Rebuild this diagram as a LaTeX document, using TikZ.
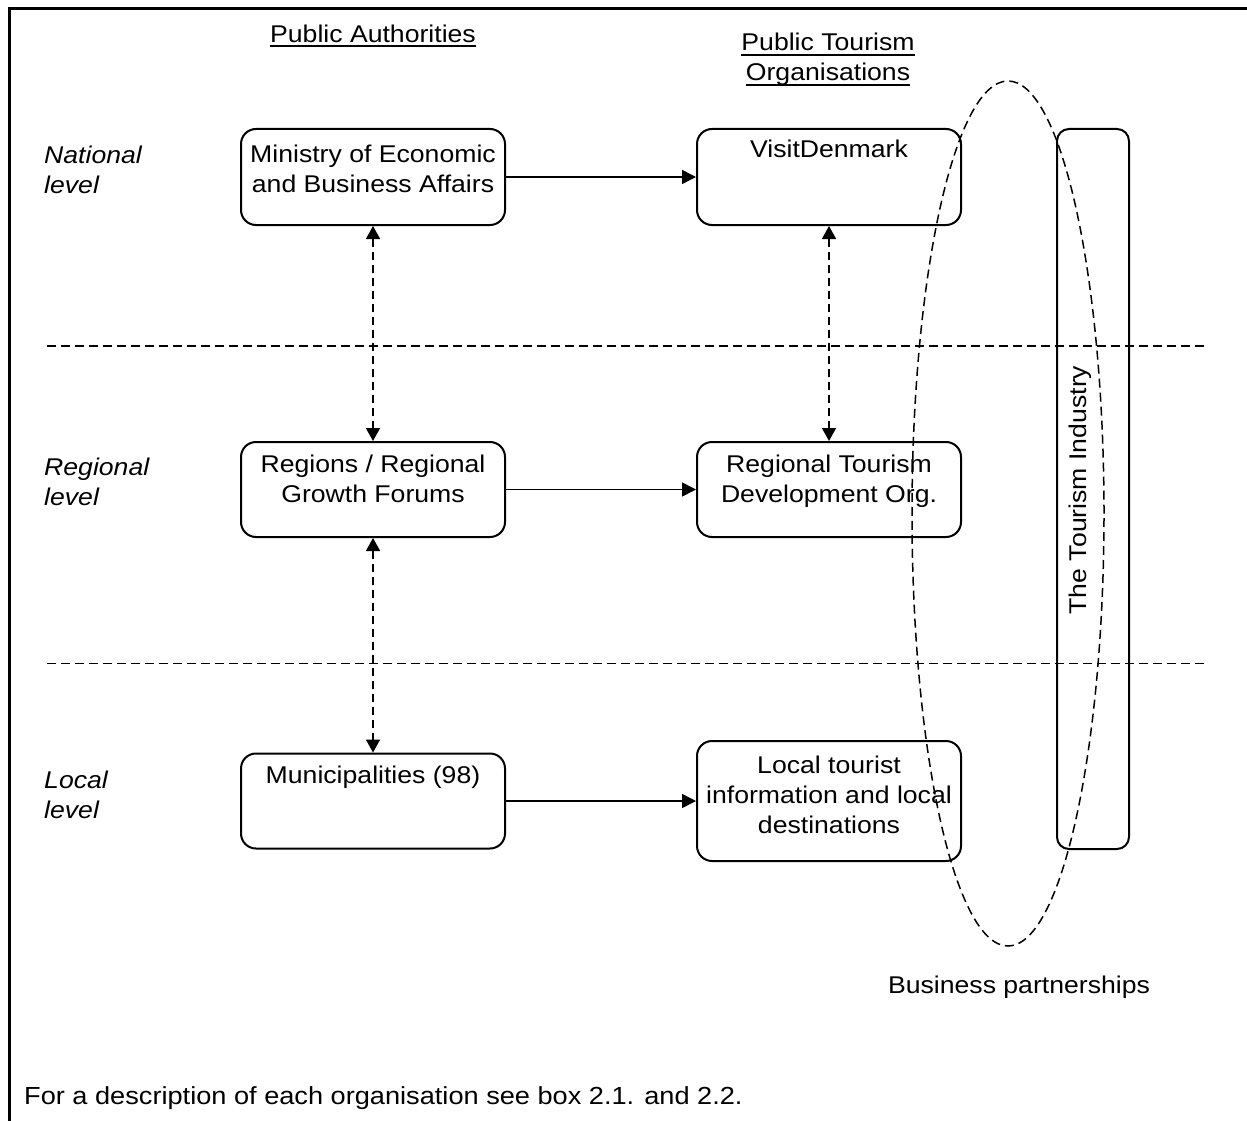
\documentclass[tikz,border=0pt]{standalone}
\usepackage{fontspec}
\setmainfont{Liberation Sans}[FakeStretch=1.1]
\newcommand{\myul}[1]{\mbox{\setbox0=\hbox{#1}\rlap{\rule[-5pt]{\wd0}{2pt}}\box0}}
\usetikzlibrary{arrows.meta}
\begin{document}
\begin{tikzpicture}[x=1pt,y=-1pt,
  every node/.style={font=\fontsize{24.2}{30}\selectfont, inner sep=0pt},
  box/.style={draw, line width=2pt, rounded corners=15pt, minimum width=264pt},
  txt/.style={align=center},
  lvl/.style={align=left, anchor=north west, font=\fontsize{24.2}{30}\selectfont\itshape},
  solidarrow/.style={line width=1.5pt, -{Triangle[length=14pt,width=14pt]}},
  dasharrow/.style={line width=1.5pt, dash pattern=on 8pt off 5pt,
     {Triangle[length=13pt,width=14pt]}-{Triangle[length=13pt,width=14pt]}},
  sep/.style={line width=1.5pt, dash pattern=on 9pt off 5pt},
  frame/.style={line width=2.6pt}]
\useasboundingbox (0,0) rectangle (1247,1121);

% frame
\draw[frame] (1247,8.5) -- (9.5,8.5) -- (9.5,1121);

% separators
\draw[sep] (47,346) -- (1205,346);
\draw[sep] (47,663.5) -- (1205,663.5);

% headings
\node[anchor=base] (pa) at (373,42.3) {\myul{Public Authorities}};
\node[txt, anchor=north] (pto) at (828,29.7) {\strut\myul{Public Tourism}\\\myul{Organisations}};

% level labels
\node[lvl] (nat) at (44,142) {\strut National\\level};
\node[lvl] (regl) at (44,454) {\strut Regional\\level};
\node[lvl] (locl) at (44,767) {\strut Local\\level};

% boxes
\node[box, minimum height=96pt] (min) at (373,177) {};
\node[box, minimum height=96pt] (vd) at (829,177) {};
\node[box, minimum height=95pt] (reg) at (373,489.5) {};
\node[box, minimum height=95pt] (rtd) at (829,489.5) {};
\node[box, minimum height=95pt] (mun) at (373,801) {};
\node[box, minimum height=120pt] (loc) at (829,801) {};
\node[draw, line width=2pt, rounded corners=12pt, minimum width=72pt, minimum height=720pt] (ind) at (1093,489) {};

% box texts
\node[txt, anchor=north] (mint) at (373,141) {\strut Ministry of Economic\\and Business Affairs};
\node[anchor=base] (vdt) at (829,157.7) {VisitDenmark};
\node[txt, anchor=north] (regt) at (373,451) {\strut Regions / Regional\\Growth Forums};
\node[txt, anchor=north] (rtdt) at (829,451) {\strut Regional Tourism\\Development Org.};
\node[anchor=base] (munt) at (373,783.3) {Municipalities (98)};
\node[txt, anchor=north] (loct) at (829,752) {\strut Local tourist\\information and local\\destinations};
\node[rotate=90, anchor=base] (indt) at (1086,490) {The Tourism Industry};

% connectors
\draw[solidarrow] (min) -- (vd);
\draw[solidarrow] (reg) -- (rtd);
\draw[solidarrow] (mun) -- (loc);
\draw[dasharrow] (min) -- (reg);
\draw[dasharrow] (reg) -- (mun);
\draw[dasharrow] (vd) -- (rtd);

% business partnerships ellipse
\draw[sep] (1008,513.5) ellipse [x radius=96pt, y radius=432.5pt];
\node[anchor=base] (bpt) at (1019,993) {Business partnerships};

% footer
\node[anchor=base west, font=\fontsize{24.7}{30}\selectfont] (foot) at (24,1104) {For a description of each organisation see box 2.1. and 2.2.};
\end{tikzpicture}
\end{document}
